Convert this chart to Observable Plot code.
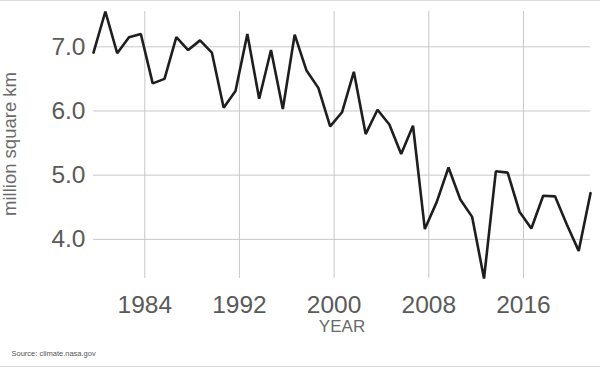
<!DOCTYPE html>
<html>
<head>
<meta charset="utf-8">
<script src="https://cdn.jsdelivr.net/npm/d3@7"></script>
<script src="https://cdn.jsdelivr.net/npm/@observablehq/plot@0.6"></script>
<style>
  html, body { margin: 0; padding: 0; background: #fff; }
</style>
</head>
<body>
<div id="chart"></div>
<script>
// Arctic sea ice minimum extent (million square km)
const years = [
  1979, 1980, 1981, 1982, 1983, 1984, 1985, 1986, 1987, 1988,
  1989, 1990, 1991, 1992, 1993, 1994, 1995, 1996, 1997, 1998,
  1999, 2000, 2001, 2002, 2003, 2004, 2005, 2006, 2007, 2008,
  2009, 2010, 2011, 2012, 2013, 2014, 2015, 2016, 2017, 2018,
  2019, 2020, 2021
];
const extent = [
  6.91, 7.55, 6.90, 7.15, 7.20, 6.43, 6.50, 7.15, 6.95, 7.10,
  6.91, 6.05, 6.31, 7.20, 6.19, 6.95, 6.03, 7.19, 6.63, 6.36,
  5.76, 5.98, 6.61, 5.64, 6.02, 5.79, 5.33, 5.77, 4.16, 4.58,
  5.12, 4.62, 4.35, 3.39, 5.06, 5.04, 4.43, 4.17, 4.68, 4.67,
  4.23, 3.82, 4.72
];
const xTickYears = [1984, 1992, 2000, 2008, 2016];
const yTicks = [4, 5, 6, 7];
const yLabel = "million square km";
const xLabel = "YEAR";
const source = "Source: climate.nasa.gov";

// September minimum of each year
const data = years.map((y, i) => ({date: new Date(Date.UTC(y, 8, 1)), value: extent[i]}));
const xTicks = xTickYears.map(y => new Date(Date.UTC(y, 0, 1)));

const font = "'Liberation Sans', Arial, Helvetica, sans-serif";
const W = 600, H = 367;

const chart = Plot.plot({
  width: W,
  height: H,
  marginLeft: 93,
  marginRight: 10,
  marginTop: 11,
  marginBottom: 89,
  style: {fontFamily: font, background: "#fff", color: "#5e5e5e", overflow: "visible"},
  x: {type: "utc"},
  y: {},
  marks: [
    Plot.gridX(xTicks, {stroke: "#c8c8c8", strokeOpacity: 1, strokeWidth: 1}),
    Plot.gridY(yTicks, {stroke: "#c8c8c8", strokeOpacity: 1, strokeWidth: 1}),
    Plot.axisX(xTicks, {tickSize: 0, tickPadding: 17, fontSize: 24.5, label: null, tickFormat: d => String(d.getUTCFullYear()), fill: "#5a5a5a"}),
    Plot.axisY(yTicks, {tickSize: 0, tickPadding: 8, fontSize: 24.5, label: null, tickFormat: d3.format(".1f"), fill: "#5a5a5a"}),
    Plot.lineY(data, {x: "date", y: "value", stroke: "#1e1e1e", strokeWidth: 2.6, strokeLinejoin: "miter"}),
    Plot.text([yLabel], {frameAnchor: "left", dx: -83, dy: -1, rotate: -90, text: d => d, fontSize: 18.5, fill: "#6a6a6a", textAnchor: "middle", lineAnchor: "middle"}),
    Plot.text([xLabel], {frameAnchor: "bottom", dy: 48, text: d => d, fontSize: 17, fill: "#6a6a6a", lineAnchor: "middle"}),
    Plot.text([source], {frameAnchor: "bottom-left", dx: -82, dy: 75, text: d => d, fontSize: 7.5, fill: "#555", textAnchor: "start", lineAnchor: "middle"})
  ]
});

const svg = d3.select(chart);
svg.append("line").attr("x1", 0).attr("x2", W).attr("y1", 0.5).attr("y2", 0.5).attr("stroke", "#dcdcdc");
svg.append("line").attr("x1", 0).attr("x2", W).attr("y1", 366.5).attr("y2", 366.5).attr("stroke", "#dcdcdc");

document.getElementById("chart").appendChild(chart);
</script>
</body>
</html>
